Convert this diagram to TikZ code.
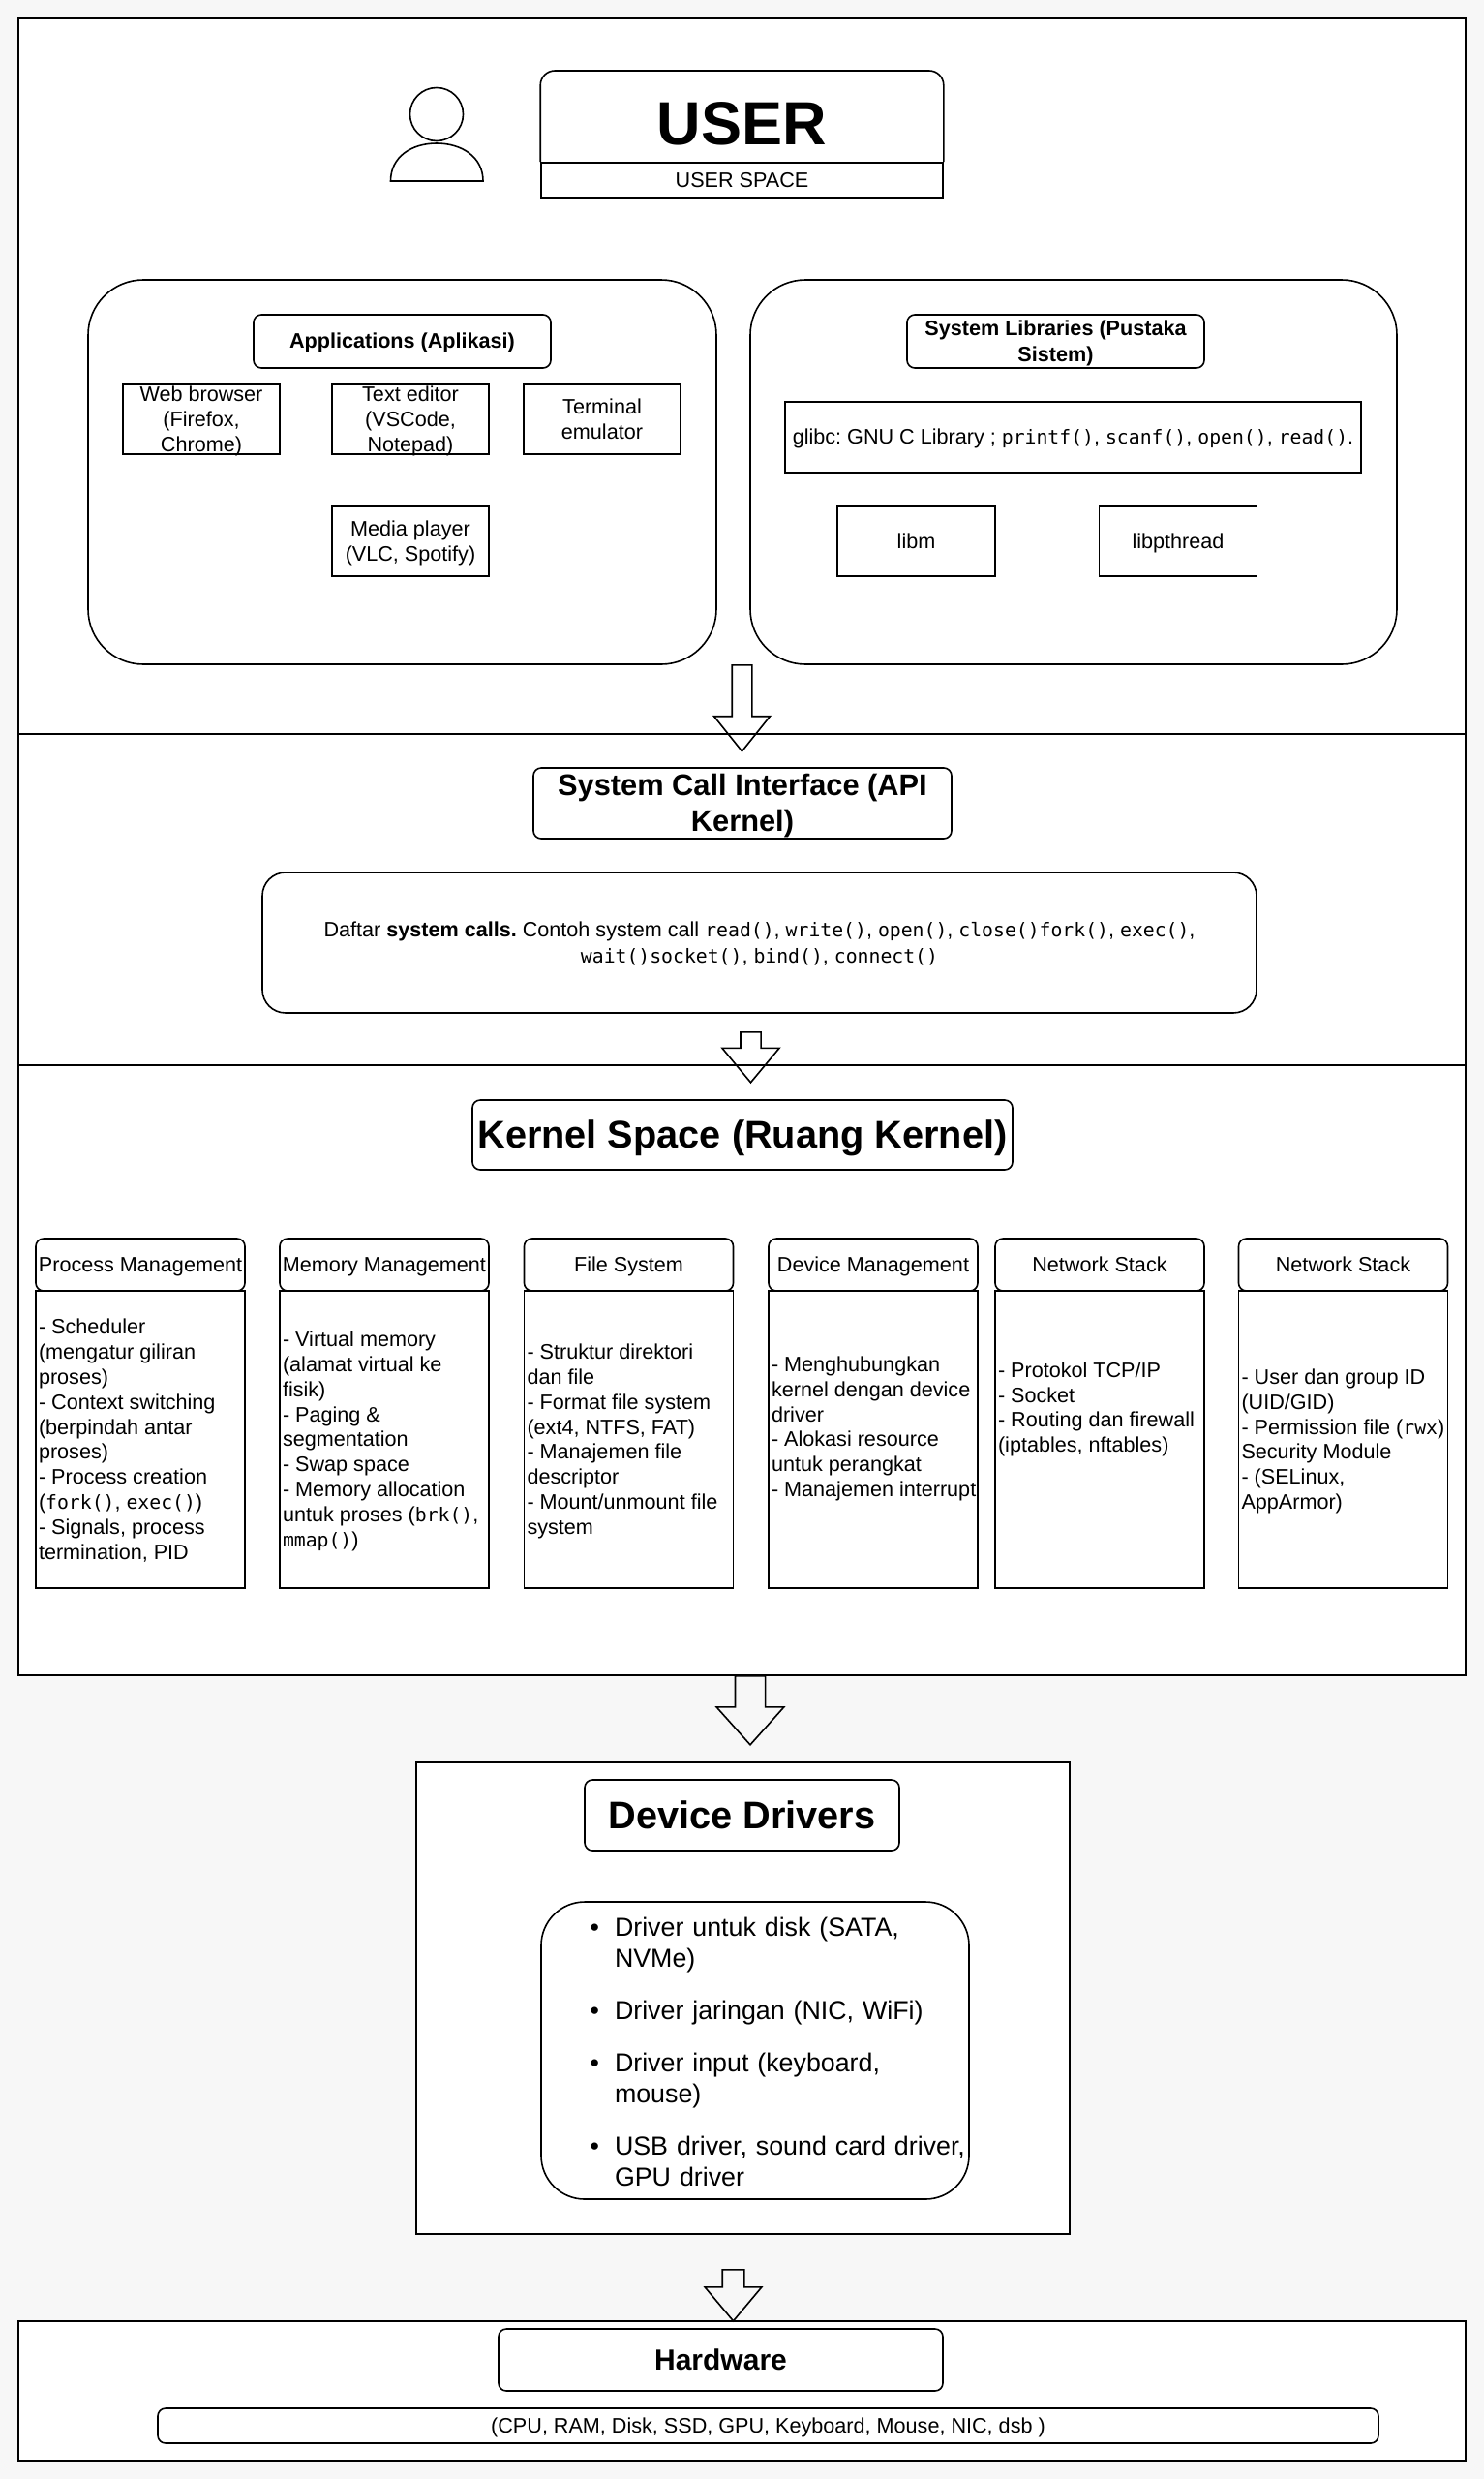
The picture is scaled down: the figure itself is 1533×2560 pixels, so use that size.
\documentclass[tikz,border=0pt]{standalone}
\usepackage{fontspec}
\setmainfont[Ligatures=NoCommon]{Liberation Sans}
\setmonofont[Scale=0.915]{DejaVu Sans Mono}
\usetikzlibrary{shapes.arrows}
\definecolor{pagegray}{HTML}{F7F7F7}
\newcommand{\textsz}{\fontsize{21.6}{25.9}\selectfont}
\newcommand{\linestrut}{\vrule height .945em depth .255em width 0pt\relax}
\newcommand{\linesetup}{\frenchspacing\spaceskip=.278em\relax\hyphenpenalty=10000\relax}
\begin{document}
\begin{tikzpicture}
[x=1pt, y=-1pt, line width=1.6pt,
every node/.style={font=\textsz,inner sep=-30pt},
lined/.style={align=center,inner xsep=0pt,text width=#1,minimum width=#1,
  execute at begin node={\rightskip=-20pt plus 1fil\leftskip=-20pt plus 1fil\linesetup\linestrut},
  execute at end node={\linestrut}},
plainbox/.style 2 args={draw,lined=#1,minimum height=#2},
softbox/.style 2 args={draw,rounded corners=8pt,lined=#1,minimum height=#2},
panel/.style={draw,rounded corners=#1},
section/.style={draw,fill=white},
listbody/.style={draw,align=left,inner xsep=0pt,text width=216pt,minimum height=307pt,
  execute at begin node={\leftskip=3pt\rightskip=-20pt plus 1fil\linesetup\linestrut},
  execute at end node={\linestrut}},
blockarrow/.style n args={4}{draw,single arrow,rotate=-90,anchor=tail,inner xsep=0pt,
  inner ysep=#1/2,single arrow head extend=#2,single arrow tip angle=#3,minimum height=#4},
]
\useasboundingbox[fill=pagegray] (0,0) rectangle (1533,2560);

\node[section,minimum width=1495pt,minimum height=739pt] (userframe) at (766.5,388.5) {};
\node[section,minimum width=1495pt,minimum height=342pt] (callframe) at (766.5,929) {};
\node[section,minimum width=1495pt,minimum height=630pt] (kernelframe) at (766.5,1415) {};
\node[section,minimum width=675pt,minimum height=487pt] (driverframe) at (767.5,2063.5) {};
\node[section,minimum width=1495pt,minimum height=144pt] (hardframe) at (766.5,2469) {};

% user
\node[draw,circle,inner sep=0pt,minimum size=55pt] (head) at (451,118) {};
\draw (403.5,187) .. controls (403.5,162) and (425,148) .. (451,148)
  .. controls (477,148) and (499,162) .. (499,187) -- cycle;
\node[plainbox={415pt}{36pt}] (usersub) at (766.5,186) {USER SPACE};
\node[lined=415pt,font=\fontsize{63}{70}\selectfont\bfseries] (usertitle) at (766.5,128) {USER};
\draw[rounded corners=15pt] (usersub.north west) |- (usertitle |- 0,73) -| (usersub.north east);

\node[panel=57pt,minimum width=649pt,minimum height=397pt] (apps) at (415.5,487.5) {};
\node[softbox={307pt}{55pt},font=\textsz\bfseries] (appstitle) at (415.5,352.5) {Applications (Aplikasi)};
\node[plainbox={162pt}{72pt}] (web) at (208,433) {Web browser\\(Firefox,\\Chrome)};
\node[plainbox={162pt}{72pt}] (editor) at (424,433) {Text editor\\(VSCode,\\Notepad)};
\node[plainbox={162pt}{72pt}] (terminal) at (622,433) {Terminal\\emulator};
\node[plainbox={162pt}{72pt}] (media) at (424,559) {Media player\\(VLC, Spotify)};

\node[panel=57pt,minimum width=668pt,minimum height=397pt] (libs) at (1109,487.5) {};
\node[softbox={307pt}{55pt},font=\textsz\bfseries] (libstitle) at (1090.5,352.5) {System Libraries (Pustaka\\Sistem)};
\node[plainbox={595pt}{73pt}] (glibc) at (1108.5,451.5) {glibc: GNU C Library ; \texttt{printf()}, \texttt{scanf()}, \texttt{open()}, \texttt{read()}.};
\node[plainbox={163pt}{72pt}] (libm) at (946.5,559) {libm};
\node[plainbox={163pt}{72pt}] (libpthread) at (1217,559) {libpthread};

% system calls
\node[blockarrow={19pt}{18.5pt}{77.3}{89pt}] (arrowuser) at (766.5,686) {};
\node[softbox={432pt}{73pt},font=\fontsize{30.8}{37.5}\selectfont\bfseries] (calltitle) at (767,829.5) {System Call Interface (API\\Kernel)};
\node[panel=24pt,lined=1027pt,minimum height=145pt] (calllist) at (784.5,973.5) {Daftar \textbf{system calls.} Contoh system call \texttt{read()}, \texttt{write()}, \texttt{open()}, \texttt{close()}\texttt{fork()}, \texttt{exec()},\\\texttt{wait()}\texttt{socket()}, \texttt{bind()}, \texttt{connect()}};
\node[blockarrow={19.5pt}{19pt}{79.6}{52pt}] (arrowcall) at (775.5,1065) {};

% kernel
\node[softbox={558pt}{72pt},font=\fontsize{39.7}{47.6}\selectfont\bfseries] (kerneltitle) at (767,1172) {Kernel Space (Ruang Kernel)};

\node[softbox={216pt}{54pt}] (prochead) at (145,1306) {Process Management};
\node[softbox={216pt}{54pt}] (memhead) at (397,1306) {Memory Management};
\node[softbox={216pt}{54pt}] (filehead) at (649.5,1306) {File System};
\node[softbox={216pt}{54pt}] (devhead) at (902,1306) {Device Management};
\node[softbox={216pt}{54pt}] (nethead) at (1136,1306) {Network Stack};
\node[softbox={216pt}{54pt}] (sechead) at (1387.5,1306) {Network Stack};

\node[listbody] (procbody) at (145,1486.5) {- Scheduler\\(mengatur giliran\\proses)\\- Context switching\\(berpindah antar\\proses)\\- Process creation\\(\texttt{fork()}, \texttt{exec()})\\- Signals, process\\termination, PID};
\node[listbody] (membody) at (397,1486.5) {- Virtual memory\\(alamat virtual ke\\fisik)\\- Paging \&\\segmentation\\- Swap space\\- Memory allocation\\untuk proses (\texttt{brk()},\\\texttt{mmap()})};
\node[listbody] (filebody) at (649.5,1486.5) {- Struktur direktori\\dan file\\- Format file system\\(ext4, NTFS, FAT)\\- Manajemen file\\descriptor\\- Mount/unmount file\\system};
\node[listbody] (devbody) at (902,1486.5) {- Menghubungkan\\kernel dengan device\\driver\\- Alokasi resource\\untuk perangkat\\- Manajemen interrupt\\~};
\node[listbody] (netbody) at (1136,1486.5) {- Protokol TCP/IP\\- Socket\\- Routing dan firewall\\(iptables, nftables)\\[40pt]~};
\node[listbody] (secbody) at (1387.5,1486.5) {- User dan group ID\\(UID/GID)\\- Permission file (\texttt{rwx})\\Security Module\\- (SELinux,\\AppArmor)};

\node[blockarrow={29.5pt}{19.25pt}{83.6}{71pt}] (arrowkernel) at (775,1730) {};

% drivers
\node[softbox={325pt}{73pt},font=\fontsize{39.7}{47.6}\selectfont\bfseries] (drivertitle) at (766.5,1874.5) {Device Drivers};
\node[panel=45pt,minimum width=442pt,minimum height=307pt,align=left,text width=442pt,inner xsep=0pt,
  font=\fontsize{26.8}{32}\selectfont] (driverlist) at (780,2117.5) {%
\begin{list}{\textbullet}{\setlength{\leftmargin}{76pt}\setlength{\labelsep}{16pt}\setlength{\labelwidth}{60pt}%
\setlength{\topsep}{0pt}\setlength{\partopsep}{0pt}\setlength{\parsep}{0pt}\setlength{\itemsep}{22pt}}
\item Driver untuk disk (SATA,\\NVMe)
\item Driver jaringan (NIC, WiFi)
\item Driver input (keyboard,\\mouse)
\item USB driver, sound card driver,\\GPU driver
\end{list}\par\vskip 9.8pt\hrule height 0pt};
\node[blockarrow={21pt}{18pt}{80}{53pt}] (arrowdriver) at (757.5,2343) {};

% hardware
\node[softbox={459pt}{64pt},font=\fontsize{30}{36}\selectfont\bfseries] (hardtitle) at (744.5,2437) {Hardware};
\node[softbox={1261pt}{36pt}] (hardlist) at (793.5,2505) {(CPU, RAM, Disk, SSD, GPU, Keyboard, Mouse, NIC, dsb )};
\end{tikzpicture}
\end{document}
